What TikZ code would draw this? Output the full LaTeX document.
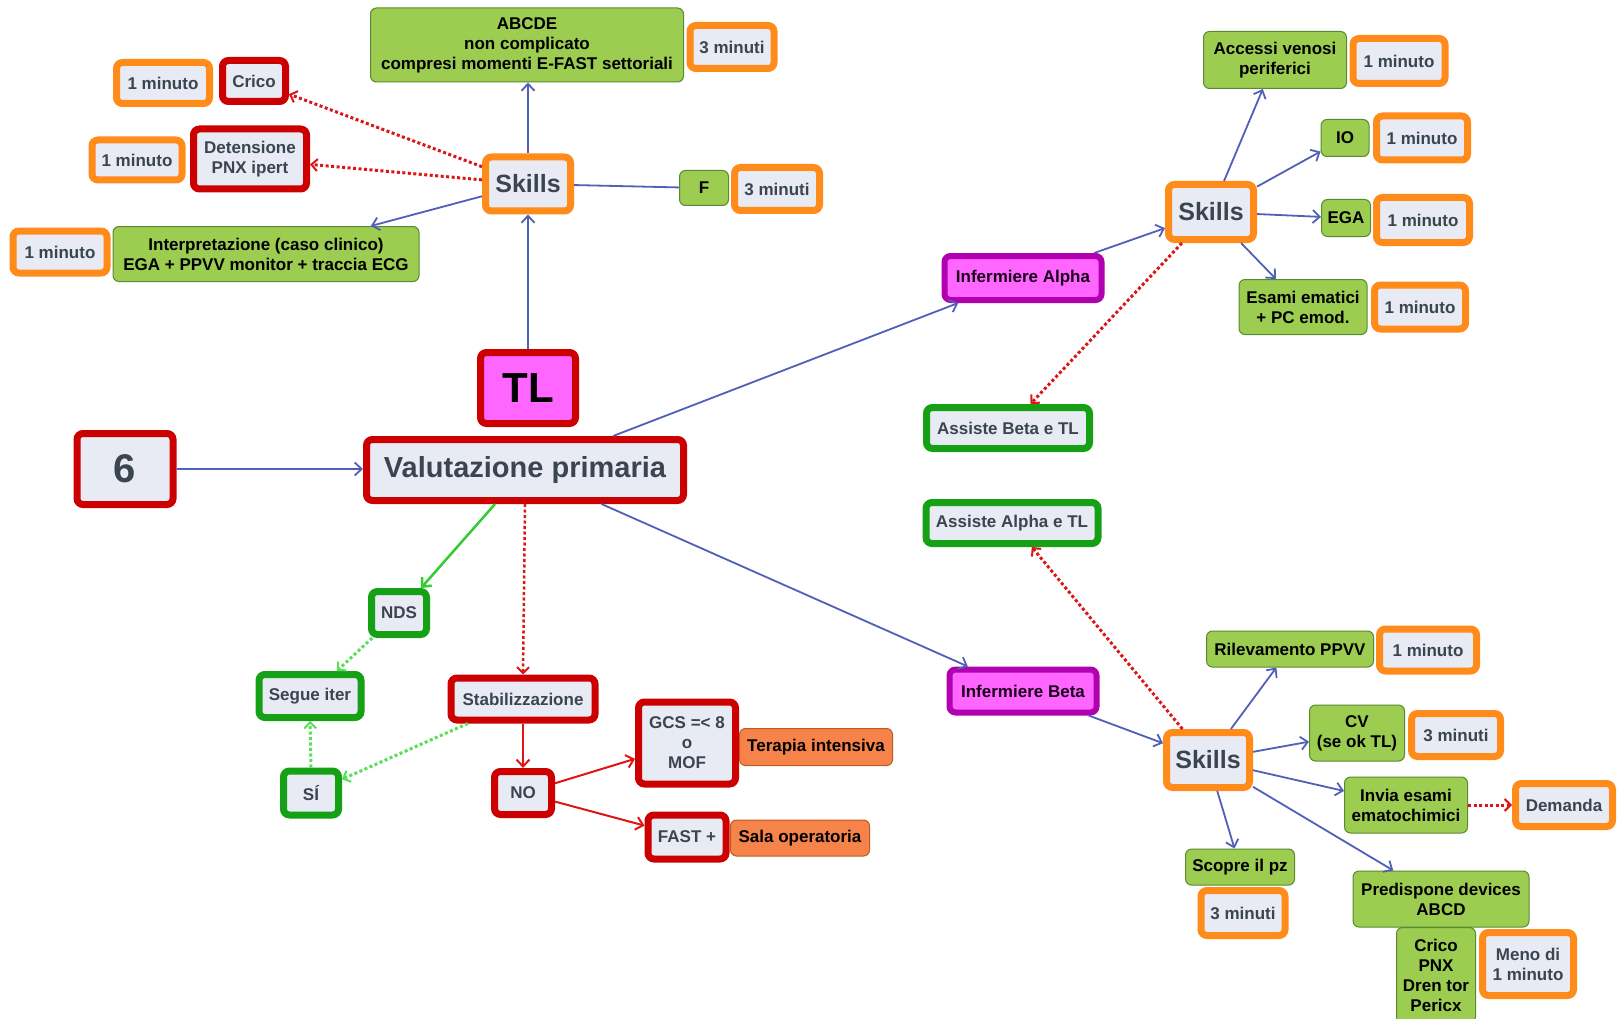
\documentclass[tikz,border=0pt]{standalone}
\usepackage{fontspec}
\setmainfont{Liberation Sans}
\usetikzlibrary{arrows.meta}
\definecolor{orangeB}{HTML}{FF8C1A}
\definecolor{redB}{HTML}{CC0000}
\definecolor{greenB}{HTML}{15A015}
\definecolor{magB}{HTML}{B000B0}
\definecolor{magF}{HTML}{FF66FF}
\definecolor{lightF}{HTML}{E8EAF4}
\definecolor{textD}{HTML}{3A4550}
\definecolor{greenF}{HTML}{9CCC50}
\definecolor{greenD}{HTML}{5A8A30}
\definecolor{orangeF}{HTML}{F6834A}
\definecolor{orangeD}{HTML}{C05A20}
\definecolor{lineB}{HTML}{5060B8}
\definecolor{lineR}{HTML}{DD1515}
\definecolor{lineG}{HTML}{33CC33}
\definecolor{lineLG}{HTML}{55E055}
\tikzset{
  base/.style={rounded corners=6pt, align=center, inner sep=2pt,
    font=\bfseries\fontsize{17}{20}\selectfont},
  ob/.style={base, draw=orangeB, line width=7pt, fill=lightF, text=textD},
  rb/.style={base, draw=redB, line width=7pt, fill=lightF, text=textD},
  gb/.style={base, draw=greenB, line width=7pt, fill=lightF, text=textD},
  mb/.style={base, draw=magB, line width=6pt, fill=magF, text=black!85!magB},
  gf/.style={base, draw=greenD, line width=1pt, fill=greenF, text=black},
  of/.style={base, draw=orangeD, line width=1pt, fill=orangeF, text=black},
  sz/.style 2 args={minimum width=#1pt, minimum height=#2pt},
  big/.style={font=\bfseries\fontsize{25}{28}\selectfont},
  bconn/.style={draw=lineB, line width=1.8pt, -{Straight Barb[length=7pt,width=13pt]}},
  bplain/.style={draw=lineB, line width=1.8pt},
  rconn/.style={draw=lineR, line width=2pt, -{Straight Barb[length=7pt,width=13pt]}},
  rdot/.style={draw=lineR, line width=3pt, dash pattern=on 3pt off 2.5pt, -{Straight Barb[length=6pt,width=12pt,line width=2pt]}},
  gconn/.style={draw=lineG, line width=2.5pt, -{Straight Barb[length=7pt,width=13pt]}},
  gdot/.style={draw=lineLG, line width=3pt, dash pattern=on 3pt off 2.5pt, -{Straight Barb[length=6pt,width=12pt,line width=2pt]}},
}
\begin{document}
\begin{tikzpicture}[x=1pt,y=-1pt]
\useasboundingbox (0,0) rectangle (1619,1019);
\fill[white] (0,0) rectangle (1619,1019);

% top-left cluster
\node[ob, sz={93}{41}] (m1a) at (163,83) {1 minuto};
\node[rb, sz={63}{41}] (crico) at (254,81) {Crico};
\node[ob, sz={90}{40}] (m1b) at (137,160) {1 minuto};
\node[rb, sz={113}{60}] (deten) at (250,159) {Detensione\\PNX ipert};
\node[ob, sz={94}{42}] (m1c) at (60,252) {1 minuto};
\node[gf, sz={306}{55}] (interp) at (266,254) {Interpretazione (caso clinico)\\EGA + PPVV monitor + traccia ECG};
\node[gf, sz={313}{74}] (abcde) at (527,45) {ABCDE\\non complicato\\compresi momenti E-FAST settoriali};
\node[ob, sz={84}{43}] (m3a) at (732,47) {3 minuti};
\node[ob, big, sz={85}{54}] (sk1) at (528,184) {Skills};
\node[gf, sz={49}{35}] (ff) at (704,188) {F};
\node[ob, sz={85}{43}] (m3b) at (777,189) {3 minuti};

% centre
\node[rb, fill=magF, text=black, font=\bfseries\fontsize{42}{44}\selectfont, sz={95}{71}] (tl) at (528,388) {TL};
\node[rb, font=\bfseries\fontsize{40}{44}\selectfont, sz={96}{71}] (six) at (125,469) {6};
\node[rb, font=\bfseries\fontsize{29}{32}\selectfont, sz={317}{61}] (val) at (525,470) {Valutazione primaria};

% lower-left
\node[gb, sz={55}{43}] (nds) at (399,613) {NDS};
\node[gb, sz={102}{43}] (segue) at (310,696) {Segue iter};
\node[rb, sz={144}{42}] (stab) at (523,699) {Stabilizzazione};
\node[gb, sz={55}{44}] (si) at (311,793) {SÍ};
\node[rb, sz={57}{43}] (no) at (523,793) {NO};
\node[rb, sz={97}{82}] (gcs) at (687,743) {GCS =< 8\\o\\MOF};
\node[of, sz={153}{37}] (terapia) at (816,747) {Terapia intensiva};
\node[rb, sz={78}{44}] (fast) at (687,837) {FAST +};
\node[of, sz={139}{36}] (sala) at (800,838) {Sala operatoria};

% right upper
\node[mb, sz={157}{44}] (alpha) at (1023,278) {Infermiere Alpha};
\node[ob, big, sz={85}{55}] (sk2) at (1211,212) {Skills};
\node[gf, sz={143}{57}] (accessi) at (1275,60) {Accessi venosi\\periferici};
\node[ob, sz={92}{45}] (m1d) at (1399,61) {1 minuto};
\node[gf, sz={48}{37}] (io) at (1345,138) {IO};
\node[ob, sz={91}{44}] (m1e) at (1422,138) {1 minuto};
\node[gf, sz={49}{37}] (ega) at (1346,218) {EGA};
\node[ob, sz={93}{45}] (m1f) at (1423,220) {1 minuto};
\node[gf, sz={128}{55}] (esami) at (1303,307) {Esami ematici\\+ PC emod.};
\node[ob, sz={91}{44}] (m1g) at (1420,307) {1 minuto};
\node[gb, sz={163}{41}] (assB) at (1008,428) {Assiste Beta e TL};

% right lower
\node[gb, sz={172}{41}] (assA) at (1012,523) {Assiste Alpha e TL};
\node[mb, sz={147}{43}] (beta) at (1023,691) {Infermiere Beta};
\node[ob, big, sz={83}{55}] (sk3) at (1208,760) {Skills};
\node[gf, sz={167}{36}] (ril) at (1290,649) {Rilevamento PPVV};
\node[ob, sz={97}{42}] (m1h) at (1428,650) {1 minuto};
\node[gf, sz={95}{56}] (cv) at (1357,733) {CV\\(se ok TL)};
\node[ob, sz={89}{43}] (m3c) at (1456,735) {3 minuti};
\node[gf, sz={123}{56}] (invia) at (1406,805) {Invia esami\\ematochimici};
\node[ob, sz={97}{43}] (demanda) at (1564,805) {Demanda};
\node[gf, sz={109}{36}] (scopre) at (1240,867) {Scopre il pz};
\node[ob, sz={84}{45}] (m3d) at (1243,913) {3 minuti};
\node[gf, sz={176}{56}] (pred) at (1441,899) {Predispone devices\\ABCD};
\node[gf, sz={79}{95}] (cricoB) at (1436,975) {Crico\\PNX\\Dren tor\\Pericx};
\node[ob, sz={91}{63}] (meno) at (1528,964) {Meno di\\1 minuto};

% connectors
\draw[bconn] (six) -- (six -| val.west);
\draw[bconn] (tl.north) -- (sk1.south);
\draw[bconn] (sk1.north) -- (abcde.south -| sk1.north);
\draw[bplain] (sk1) -- (ff);
\draw[bconn] (sk1) -- (interp);
\draw[rdot] (sk1) -- (crico);
\draw[rdot] (sk1) -- (deten);

\draw[bconn] (val) -- (alpha);
\draw[bconn] (alpha) -- (sk2);
\draw[bconn] (sk2) -- (accessi);
\draw[bconn] (sk2) -- (io);
\draw[bconn] (sk2) -- (ega);
\draw[bconn] (sk2) -- (esami);
\draw[rdot] (sk2) -- (assB);

\draw[bconn] (val) -- (beta);
\draw[bconn] (beta) -- (sk3);
\draw[rdot] (sk3) -- (assA);
\draw[bconn] (sk3) -- (ril);
\draw[bconn] (sk3) -- (cv);
\draw[bconn] (sk3) -- (invia);
\draw[bconn] (sk3) -- (scopre);
\draw[bconn] (sk3) -- (pred);
\draw[rdot] (invia) -- (demanda);

\draw[gconn] (val) -- (nds);
\draw[rdot, line width=2.5pt] (val.south) -- (stab.north);
\draw[gdot] (nds) -- (segue);
\draw[gdot] (si.north) -- (segue.south);
\draw[gdot] (stab) -- (si);
\draw[rconn] (stab.south) -- (no.north);
\draw[rconn] (no) -- (gcs);
\draw[rconn] (no) -- (fast);
\end{tikzpicture}
\end{document}
